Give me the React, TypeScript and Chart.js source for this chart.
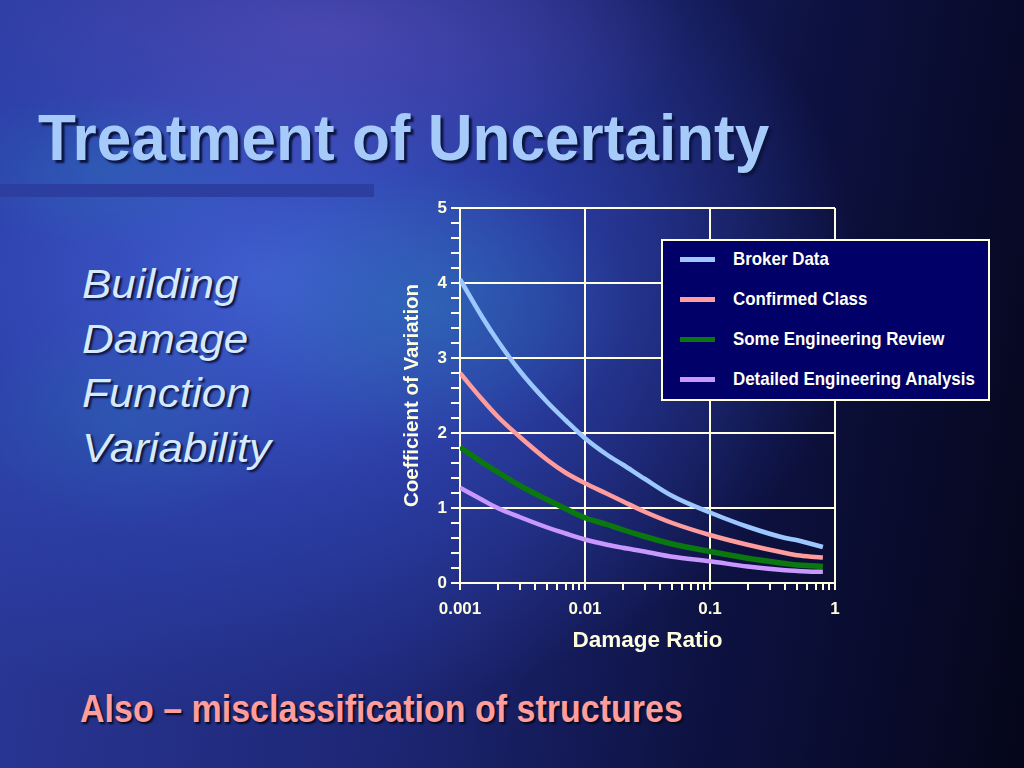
import React, { useEffect, useRef } from "react";
import { Chart, registerables } from "chart.js";

Chart.register(...registerables);

// ---- data ----
const X_VALUES = [0.001, 0.0015, 0.002, 0.003, 0.005, 0.007, 0.01, 0.015, 0.02, 0.03, 0.05, 0.1, 0.2, 0.4, 0.5, 0.65, 0.8];
const BROKER = [4.05, 3.55, 3.23, 2.83, 2.41, 2.17, 1.93, 1.71, 1.58, 1.39, 1.16, 0.94, 0.75, 0.6, 0.57, 0.52, 0.48];
const CONFIRMED = [2.8, 2.45, 2.22, 1.95, 1.64, 1.47, 1.33, 1.19, 1.09, 0.95, 0.8, 0.64, 0.51, 0.4, 0.37, 0.35, 0.34];
const SOME_ENG = [1.81, 1.61, 1.48, 1.3, 1.11, 0.99, 0.87, 0.78, 0.71, 0.62, 0.52, 0.42, 0.33, 0.26, 0.24, 0.23, 0.22];
const DETAILED = [1.27, 1.11, 1.0, 0.88, 0.74, 0.66, 0.58, 0.51, 0.47, 0.42, 0.35, 0.29, 0.22, 0.17, 0.16, 0.15, 0.15];

const SERIES_NAMES = ["Broker Data", "Confirmed Class", "Some Engineering Review", "Detailed Engineering Analysis"];
const SERIES_COLORS = ["#9CC8FF", "#FF9C9C", "#0A780E", "#C898FF"];
const SERIES_VALUES = [BROKER, CONFIRMED, SOME_ENG, DETAILED];

const X_DECADES = [0.001, 0.01, 0.1, 1];
const X_TICK_LABELS = ["0.001", "0.01", "0.1", "1"];
const Y_TICK_LABELS = ["0", "1", "2", "3", "4", "5"];

const CREAM = "#FFFFE0";
const FONT = "'Liberation Sans', Arial, Helvetica, sans-serif";

function decadeIndex(v: number): number {
  for (let i = 0; i < X_DECADES.length; i++) {
    if (Math.abs(v - X_DECADES[i]) / X_DECADES[i] < 1e-6) return i;
  }
  return -1;
}

function ChartCanvas() {
  const ref = useRef<HTMLCanvasElement | null>(null);
  useEffect(() => {
    if (!ref.current) return;
    const chart = new Chart(ref.current, {
      type: "line",
      data: {
        datasets: SERIES_NAMES.map((name, si) => ({
          label: name,
          data: X_VALUES.map((x, i) => ({ x, y: SERIES_VALUES[si][i] })),
          borderColor: SERIES_COLORS[si],
          backgroundColor: SERIES_COLORS[si],
          borderWidth: si === 2 ? 5.5 : 4.5,
          pointRadius: 0,
          cubicInterpolationMode: "monotone" as const,
          fill: false,
        })),
      },
      options: {
        animation: false,
        responsive: false,
        devicePixelRatio: 1,
        layout: { padding: { top: 18, right: 15, left: 0, bottom: 0 } },
        plugins: { legend: { display: false }, tooltip: { enabled: false } },
        scales: {
          x: {
            type: "logarithmic",
            min: 0.001,
            max: 1,
            afterBuildTicks: (scale: any) => {
              const ticks: any[] = [];
              for (let d = 0; d < X_DECADES.length - 1; d++) {
                for (let k = 1; k <= 9; k++) {
                  ticks.push({ value: k * X_DECADES[d], major: k === 1 });
                }
              }
              ticks.push({ value: X_DECADES[X_DECADES.length - 1], major: true });
              scale.ticks = ticks;
            },
            afterFit: (scale: any) => {
              scale.height = 77;
            },
            ticks: {
              autoSkip: false,
              maxRotation: 0,
              minRotation: 0,
              padding: 9,
              color: CREAM,
              font: { family: FONT, size: 17, weight: "bold" },
              callback: (value: any) => {
                const i = decadeIndex(Number(value));
                return i >= 0 ? X_TICK_LABELS[i] : "";
              },
            },
            grid: {
              color: (ctx: any) => (ctx.tick && decadeIndex(ctx.tick.value) >= 0 ? CREAM : "rgba(0,0,0,0)"),
              tickColor: CREAM,
              lineWidth: 2,
              tickLength: 7,
              drawTicks: true,
            },
            border: { display: true, color: CREAM, width: 2 },
            title: {
              display: true,
              text: "Damage Ratio",
              color: CREAM,
              font: { family: FONT, size: 22.5, weight: "bold" },
              padding: { top: 0, bottom: 6 },
            },
          },
          y: {
            type: "linear",
            min: 0,
            max: 5,
            afterBuildTicks: (scale: any) => {
              const ticks: any[] = [];
              for (let i = 0; i <= 25; i++) ticks.push({ value: i / 5, major: i % 5 === 0 });
              scale.ticks = ticks;
            },
            afterFit: (scale: any) => {
              scale.width = 70;
            },
            ticks: {
              autoSkip: false,
              padding: 4,
              color: CREAM,
              font: { family: FONT, size: 17, weight: "bold" },
              callback: (value: any) => {
                const v = Number(value);
                const r = Math.round(v);
                return Math.abs(v - r) < 1e-6 ? Y_TICK_LABELS[r] : "";
              },
            },
            grid: {
              color: (ctx: any) => {
                const v = ctx.tick ? ctx.tick.value : 0.5;
                return Math.abs(v - Math.round(v)) < 1e-6 ? CREAM : "rgba(0,0,0,0)";
              },
              tickColor: CREAM,
              lineWidth: 2,
              tickLength: 9,
            },
            border: { display: true, color: CREAM, width: 2 },
            title: {
              display: true,
              text: "Coefficient of Variation",
              color: CREAM,
              font: { family: FONT, size: 20.5, weight: "bold" },
              padding: { top: 10, bottom: 0 },
            },
          },
        },
      } as any,
    });
    return () => chart.destroy();
  }, []);
  return <canvas ref={ref} width={460} height={470} style={{ width: 460, height: 470, display: "block" }} />;
}

export default function App() {
  return (
    <div
      style={{
        position: "fixed",
        left: 0,
        top: 0,
        width: 1024,
        height: 768,
        overflow: "hidden",
        fontFamily: FONT,
        background: [
          "radial-gradient(ellipse 20% 18% at 42% 40%, rgba(40,125,180,0.45), rgba(0,0,0,0) 100%)",
          "radial-gradient(ellipse 16% 14% at 12% 55%, rgba(40,115,175,0.35), rgba(0,0,0,0) 100%)",
          "radial-gradient(ellipse 16% 10% at 10% 22%, rgba(40,120,180,0.35), rgba(0,0,0,0) 100%)",
          "radial-gradient(ellipse 35% 20% at 32% 4%, rgba(130,90,200,0.35), rgba(0,0,0,0) 100%)",
          "radial-gradient(ellipse 58% 58% at 26% 36%, rgba(66,96,212,0.95), rgba(48,70,182,0.7) 50%, rgba(0,0,0,0) 100%)",
          "linear-gradient(100deg, #2c3a9c 0%, #1d2674 45%, #0d1140 72%, #05061a 100%)",
        ].join(", "),
      }}
    >
      <div style={{ position: "absolute", left: 0, top: 184, width: 374, height: 13, background: "#2c3ea0" }} />
      <div
        style={{
          position: "absolute",
          left: 38,
          top: 106,
          fontSize: 64,
          lineHeight: "64px",
          fontWeight: "bold",
          color: "#A6CBFA",
          whiteSpace: "nowrap",
          transform: "scaleX(0.97)",
          transformOrigin: "left top",
          textShadow: "3px 3px 2px #0c1440",
        }}
      >
        Treatment of Uncertainty
      </div>
      <div
        style={{
          position: "absolute",
          left: 82,
          top: 257,
          fontSize: 40,
          lineHeight: "54.5px",
          fontStyle: "italic",
          color: "#D6EAFF",
          whiteSpace: "nowrap",
          transform: "scaleX(1.1)",
          transformOrigin: "left top",
          textShadow: "2px 2px 2px #0c1440",
        }}
      >
        <div>Building</div>
        <div>Damage</div>
        <div>Function</div>
        <div>Variability</div>
      </div>
      <div
        style={{
          position: "absolute",
          left: 80,
          top: 690,
          fontSize: 38,
          lineHeight: "38px",
          fontWeight: "bold",
          color: "#FF9C9C",
          whiteSpace: "nowrap",
          transform: "scaleX(0.895)",
          transformOrigin: "left top",
          textShadow: "2px 2px 2px #05081e",
        }}
      >
        Also – misclassification of structures
      </div>
      <div style={{ position: "absolute", left: 390, top: 190, width: 460, height: 470 }}>
        <ChartCanvas />
      </div>
      <div
        style={{
          position: "absolute",
          left: 661,
          top: 239,
          width: 325,
          height: 158,
          border: `2px solid ${CREAM}`,
          background: "#000068",
        }}
      >
        {SERIES_NAMES.map((name, i) => (
          <div key={name} style={{ position: "absolute", left: 0, top: 18 + i * 40 - 12, height: 24, width: 325 }}>
            <div
              style={{
                position: "absolute",
                left: 17,
                top: 10,
                width: 35,
                height: 5,
                background: SERIES_COLORS[i],
              }}
            />
            <div
              style={{
                position: "absolute",
                left: 70,
                top: 0,
                fontSize: 19,
                lineHeight: "24px",
                fontWeight: "bold",
                color: "#FFFFF4",
                whiteSpace: "nowrap",
                transform: "scaleX(0.89)",
                transformOrigin: "left center",
              }}
            >
              {name}
            </div>
          </div>
        ))}
      </div>
    </div>
  );
}
